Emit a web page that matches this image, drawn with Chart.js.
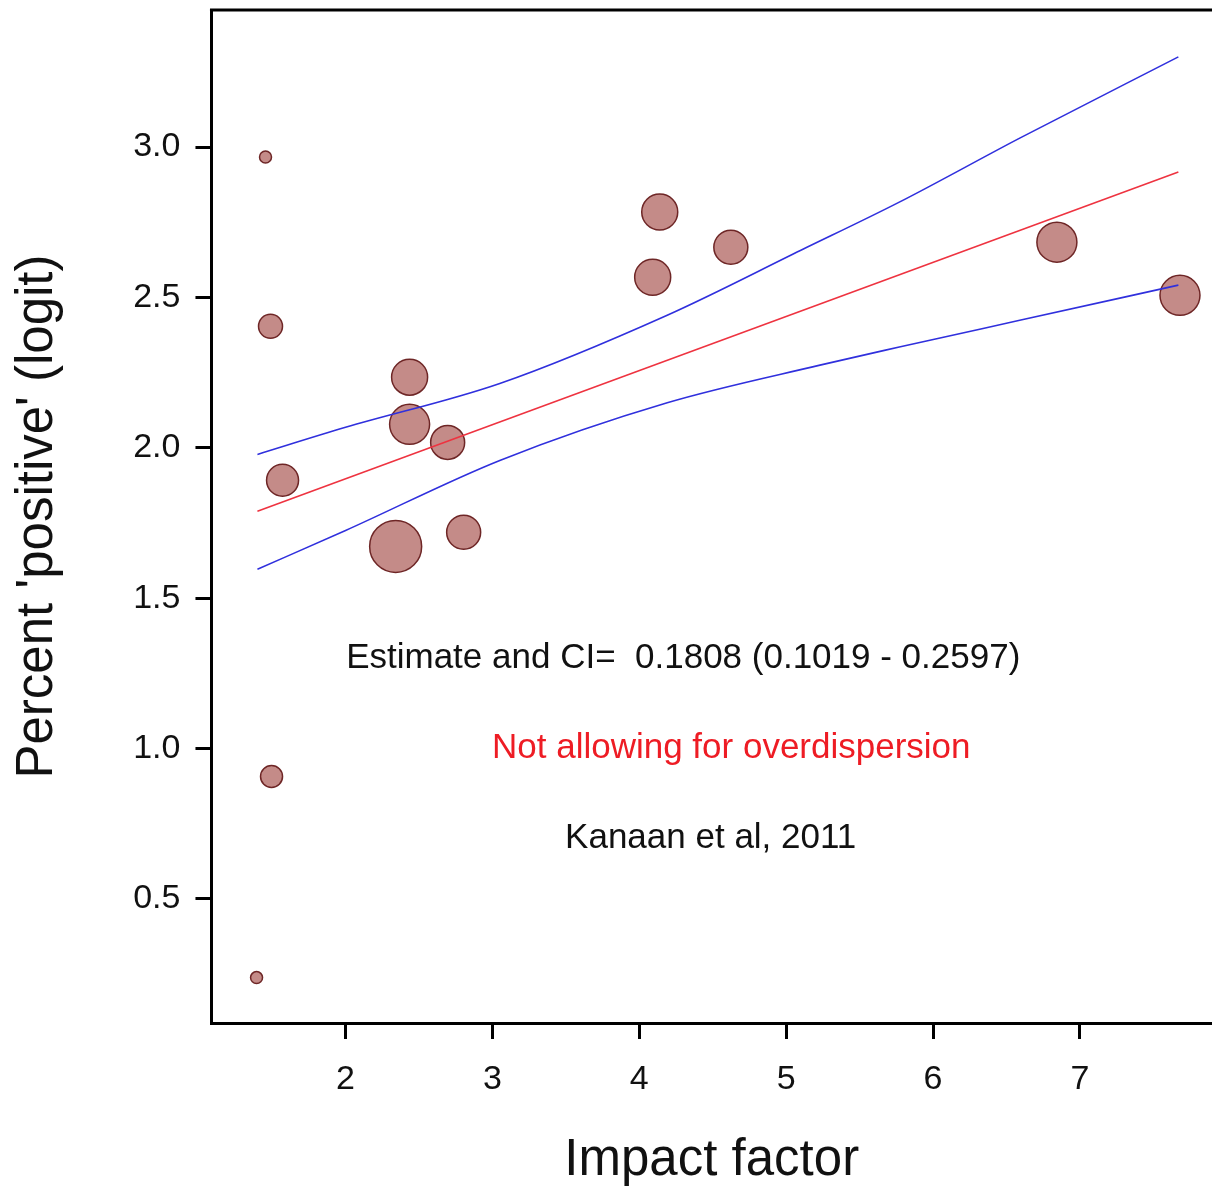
<!DOCTYPE html>
<html>
<head>
<meta charset="utf-8">
<script src="https://cdn.jsdelivr.net/npm/chart.js@4.4.1/dist/chart.umd.min.js"></script>
<style>
  html, body { margin: 0; padding: 0; background: #fff; overflow: hidden; }
  #wrap { width: 1212px; height: 1192px; }
</style>
</head>
<body>
<div id="wrap"><canvas id="c"></canvas></div>
<script>
"use strict";

// --- data ---
const impactFactor = [1.455, 1.489, 1.571, 1.496, 1.394, 2.436, 2.436, 2.695, 2.341, 2.804, 4.139, 4.091, 4.623, 6.843, 7.681];
const logitPositive = [2.967, 2.404, 1.892, 0.907, 0.238, 2.235, 2.078, 2.018, 1.672, 1.719, 2.784, 2.567, 2.667, 2.684, 2.507];
const bubbleSize = [6, 12, 16, 11, 6, 18, 20, 17, 26, 17, 18, 18, 17, 20, 20];

// fitted line and confidence band
const fitX = [1.40, 7.67];
const fitY = [1.789, 2.917];
const upperX = [1.40, 2.00, 3.05, 4.19, 5.10, 5.77, 6.59, 7.67];
const upperY = [1.978, 2.068, 2.214, 2.441, 2.657, 2.817, 3.030, 3.300];
const lowerX = [1.40, 2.00, 3.05, 4.19, 5.23, 5.77, 6.59, 7.67];
const lowerY = [1.596, 1.725, 1.958, 2.150, 2.275, 2.335, 2.424, 2.541];

const xTicks = [2, 3, 4, 5, 6, 7];
const yTicks = [0.5, 1.0, 1.5, 2.0, 2.5, 3.0];

// text notes inside the plot (anchored in data units)
const noteText = ['Estimate and CI=  0.1808 (0.1019 - 0.2597)', 'Not allowing for overdispersion', 'Kanaan et al, 2011'];
const noteX = [4.299, 4.626, 4.486];
const noteY = [1.3, 1.0, 0.7];
const noteColor = ['#111111', '#ee1c24', '#111111'];

const FONT = "'Liberation Sans', Arial, sans-serif";

const zip = (xs, ys) => xs.map((x, i) => ({ x: x, y: ys[i] }));

// top frame line (axes only draw left + bottom)
const frameTop = {
    id: 'frameTop',
    afterDraw(chart) {
        const { ctx, chartArea } = chart;
        ctx.save();
        ctx.strokeStyle = '#000';
        ctx.lineWidth = 3;
        ctx.beginPath();
        ctx.moveTo(chartArea.left - 1.5, chartArea.top);
        ctx.lineTo(chart.width, chartArea.top);
        ctx.stroke();
        ctx.restore();
    }
};

const notes = {
    id: 'notes',
    afterDatasetsDraw(chart) {
        const { ctx, scales } = chart;
        ctx.save();
        ctx.font = `35px ${FONT}`;
        ctx.textAlign = 'center';
        ctx.textBaseline = 'middle';
        noteText.forEach((t, i) => {
            ctx.fillStyle = noteColor[i];
            ctx.fillText(t, scales.x.getPixelForValue(noteX[i]), scales.y.getPixelForValue(noteY[i]));
        });
        ctx.restore();
    }
};

const noEdgePad = axis => {
    axis.paddingTop = 0; axis.paddingBottom = 0;
    axis.paddingLeft = 0; axis.paddingRight = 0;
};

new Chart(document.getElementById('c'), {
    type: 'bubble',
    data: {
        datasets: [
            {
                type: 'line', label: 'upper', data: zip(upperX, upperY), order: 0,
                borderColor: '#3030dd', borderWidth: 1.6, pointRadius: 0,
                cubicInterpolationMode: 'monotone', fill: false
            },
            {
                type: 'line', label: 'lower', data: zip(lowerX, lowerY), order: 0,
                borderColor: '#3030dd', borderWidth: 1.6, pointRadius: 0,
                cubicInterpolationMode: 'monotone', fill: false
            },
            {
                type: 'line', label: 'fit', data: zip(fitX, fitY), order: 0,
                borderColor: '#ee3340', borderWidth: 1.6, pointRadius: 0, fill: false
            },
            {
                type: 'bubble', label: 'studies', order: 1, clip: false,
                data: impactFactor.map((x, i) => ({ x: x, y: logitPositive[i], r: bubbleSize[i] })),
                backgroundColor: '#c48b88', borderColor: '#6e2626', borderWidth: 1.5
            }
        ]
    },
    options: {
        responsive: true, maintainAspectRatio: false, animation: false,
        devicePixelRatio: 1,
        layout: { autoPadding: false, padding: { left: 0, top: 10, right: 0, bottom: 0 } },
        plugins: { legend: { display: false }, tooltip: { enabled: false } },
        scales: {
            x: {
                type: 'linear', position: 'bottom', min: 1.087, max: 7.899,
                afterBuildTicks: axis => { axis.ticks = xTicks.map(v => ({ value: v })); },
                afterFit: noEdgePad,
                grid: { drawOnChartArea: false, drawTicks: true, tickLength: 16, tickWidth: 3, tickColor: '#000' },
                border: { display: true, color: '#000', width: 3 },
                ticks: { color: '#111', padding: 20, maxRotation: 0, font: { family: FONT, size: 34 }, callback: v => String(v) },
                title: { display: true, text: 'Impact factor', color: '#111', padding: { top: 11, bottom: 0 }, font: { family: FONT, size: 51 } }
            },
            y: {
                type: 'linear', position: 'left', min: 0.087, max: 3.456,
                afterBuildTicks: axis => { axis.ticks = yTicks.map(v => ({ value: v })); },
                afterFit: noEdgePad,
                grid: { drawOnChartArea: false, drawTicks: true, tickLength: 16, tickWidth: 3, tickColor: '#000' },
                border: { display: true, color: '#000', width: 3 },
                ticks: { color: '#111', padding: 15, font: { family: FONT, size: 34 }, callback: v => v.toFixed(1) },
                title: { display: true, text: "Percent 'positive' (logit)", color: '#111', padding: { top: 7, bottom: 50 }, font: { family: FONT, size: 51 } }
            }
        }
    },
    plugins: [frameTop, notes]
});
</script>
</body>
</html>
